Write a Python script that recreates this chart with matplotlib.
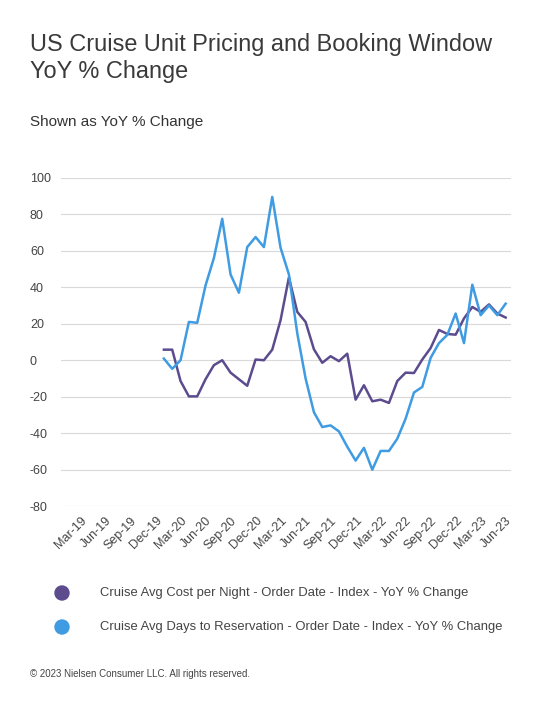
import matplotlib
matplotlib.use('Agg')
import matplotlib.pyplot as plt
import numpy as np
import pandas as pd

months = pd.date_range('2020-01-01', '2023-06-01', freq='MS')
cost_per_night = [5.8, 5.8, -11.4, -19.8, -19.8, -10.4, -2.7, 0.0, -6.8, -10.4, -14.0, 0.4,
                  0.0, 5.8, 22.0, 45.4, 26.5, 21.0, 6.0, -1.4, 2.2, -0.5, 3.6, -21.6,
                  -13.7, -22.5, -21.6, -23.4, -11.4, -6.8, -7.0, 0.4, 6.7, 16.6, 14.4, 14.0,
                  22.9, 29.2, 26.5, 30.6, 25.6, 23.4]
days_to_res = [0.9, -4.7, 0.0, 21.0, 20.5, 41.0, 56.0, 77.5, 47.0, 37.0, 62.0, 67.5,
               62.0, 89.5, 61.6, 47.0, 14.8, -10.0, -28.5, -36.6, -35.7, -39.0, -47.4, -55.0,
               -48.0, -60.0, -49.7, -49.7, -43.0, -32.0, -17.7, -14.6, 1.3, 9.4, 13.9, 25.6,
               9.4, 41.4, 24.7, 30.0, 24.7, 31.0]
tick_months = pd.date_range('2019-03-01', '2023-06-01', freq='3MS')
tick_labels = [d.strftime('%b-%y') for d in tick_months]

purple = '#5c4c8e'
blue = '#3f9be2'
grey = '#444444'
plt.rcParams['font.family'] = ['Liberation Sans', 'DejaVu Sans']
plt.rcParams['axes.unicode_minus'] = False

fig = plt.figure(figsize=(5.5, 7.11), dpi=100)
ax = fig.add_axes([0.11, 0.288, 0.82, 0.462])

# month index relative to Jan-20
idx = np.arange(len(months))
tick_idx = [(d.year - 2020) * 12 + d.month - 1 for d in tick_months]

ax.plot(idx, cost_per_night, color=purple, lw=1.8)
ax.plot(idx, days_to_res, color=blue, lw=1.8)

ax.set_xlim(-12.4, 41.7)
ax.set_ylim(-80, 100)
ax.set_yticks(range(-80, 101, 20))
ax.set_xticks(tick_idx)
ax.set_xticklabels(tick_labels, rotation=45, ha='right', rotation_mode='anchor',
                   color=grey, fontsize=9)
ax.tick_params(axis='x', length=0, pad=6)
ax.tick_params(axis='y', length=0, pad=22, labelcolor=grey, labelsize=9)
for lab in ax.get_yticklabels():
    lab.set_horizontalalignment('left')
ax.grid(axis='y', color='#d9d9d9', lw=0.8)
for s in ax.spines.values():
    s.set_visible(False)
ax.set_axisbelow(True)

fig.text(30 / 550, 1 - 58 / 711, 'US Cruise Unit Pricing and Booking Window\nYoY % Change',
         fontsize=16.9, color='#3a3a3a', va='center', linespacing=1.2)
fig.text(30 / 550, 1 - 122 / 711, 'Shown as YoY % Change', fontsize=11, color='#333333',
         va='center')

for y, c, t in [(593, purple, 'Cruise Avg Cost per Night - Order Date - Index - YoY % Change'),
                (627, blue, 'Cruise Avg Days to Reservation - Order Date - Index - YoY % Change')]:
    fig.patches.append(matplotlib.patches.Ellipse((62 / 550, 1 - y / 711), 14 / 550, 14 / 711,
                                                  transform=fig.transFigure, color=c))
    fig.text(100 / 550, 1 - y / 711, t, fontsize=9.4, color=grey, va='center')

fig.text(30 / 550, 1 - 674 / 711, '© 2023 Nielsen Consumer LLC. All rights reserved.',
         fontsize=7, color=grey, va='center')

fig.savefig('out.png', dpi=100, facecolor='white')
